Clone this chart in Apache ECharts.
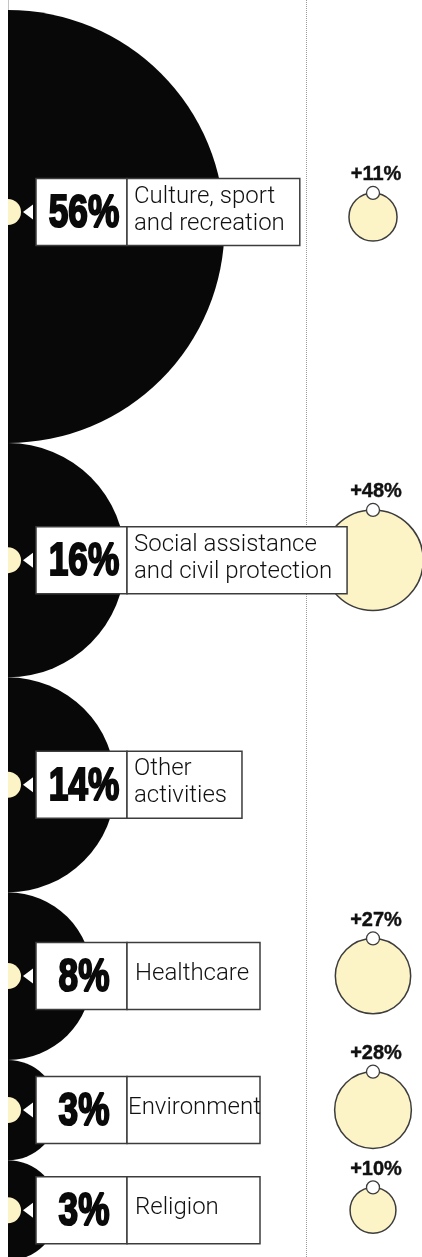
<!DOCTYPE html>
<html>
<head>
<meta charset="utf-8">
<script src="https://cdn.jsdelivr.net/npm/echarts@6/dist/echarts.min.js"></script>
<style>
  html, body { margin: 0; padding: 0; background: #fff; }
  #chart { width: 422px; height: 1257px; }
</style>
</head>
<body>
<div id="chart"></div>
<script>
// ---- data ----
const categories = [
  'Culture, sport\nand recreation',
  'Social assistance\nand civil protection',
  'Other\nactivities',
  'Healthcare',
  'Environment',
  'Religion'
];
const shares = [56, 16.4, 13.8, 8.4, 3.0, 3.0];      // share of total, %
const growth = [11, 48, null, 27, 28, 10];           // growth, %
const shareLabels = shares.map(v => Math.round(v) + '%');
const growthLabels = growth.map(g => g == null ? '' : '+' + g + '%');

// ---- layout ----
const TOP = 10;
const K = 216.5 / Math.sqrt(56);   // radius per sqrt(share)
const KG = 7.25;                   // radius per sqrt(growth)
const GROWTH_X = 365;
const DIVIDER_X = 298;
const FIRST_LABEL_SHIFT = -14.5;   // the first (largest) row's label sits higher
const FIRST_GROWTH_SHIFT = -9.5;
const radii = shares.map(v => K * Math.sqrt(v));
const centers = [];
(function () {
  let y = TOP;
  radii.forEach(r => { centers.push(y + r); y += 2 * r; });
})();
const labelY = centers.map((c, i) => i === 0 ? c + FIRST_LABEL_SHIFT : c);
const growthY = centers.map((c, i) => i === 0 ? c + FIRST_GROWTH_SHIFT : c);

const measureCtx = document.createElement('canvas').getContext('2d');
const LABEL_FONT = '300 24px Roboto';
measureCtx.font = LABEL_FONT;
function textWidth(s) {
  return Math.max.apply(null, s.split('\n').map(l => measureCtx.measureText(l).width));
}

const CREAM = '#fcf3c6';
const LINE = '#3c3c3c';

const chart = echarts.init(document.getElementById('chart'), null, { renderer: 'canvas' });

chart.setOption({
  animation: false,
  backgroundColor: '#fff',
  grid: { left: 8, right: 0, top: 0, bottom: 0 },
  xAxis: { type: 'value', min: 0, max: 414, show: false },
  yAxis: {
    type: 'value', min: 0, max: 1257, inverse: true,
    axisLine: { show: true, onZero: false, lineStyle: { color: '#c4c4c4', width: 1 } },
    axisTick: { show: false }, axisLabel: { show: false }, splitLine: { show: false }
  },
  series: [
    {
      name: 'share',
      type: 'custom',
      silent: true,
      z: 2,
      data: shares.map((v, i) => [0, centers[i], v]),
      renderItem: function (params, api) {
        const p = api.coord([api.value(0), api.value(1)]);
        const r = api.size([K * Math.sqrt(api.value(2)), 0])[0];
        return {
          type: 'sector',
          shape: { cx: p[0], cy: p[1], r0: 0, r: r, startAngle: -Math.PI / 2, endAngle: Math.PI / 2, clockwise: true },
          style: { fill: '#080808' }
        };
      },
      markLine: {
        silent: true,
        symbol: 'none',
        label: { show: false },
        lineStyle: { color: '#9a9a9a', type: [1, 1], width: 1 },
        data: [{ xAxis: DIVIDER_X }]
      }
    },
    {
      name: 'growth',
      type: 'custom',
      silent: true,
      z: 3,
      data: growth.map((g, i) => [GROWTH_X, growthY[i], g, i]).filter(d => d[2] != null),
      renderItem: function (params, api) {
        const p = api.coord([api.value(0), api.value(1)]);
        const r = api.size([KG * Math.sqrt(api.value(2)), 0])[0];
        const i = api.value(3);
        return {
          type: 'group',
          children: [
            { type: 'circle', shape: { cx: p[0], cy: p[1], r: r },
              style: { fill: CREAM, stroke: LINE, lineWidth: 1.5 } },
            { type: 'circle', shape: { cx: p[0], cy: p[1] - r, r: 6.5 },
              style: { fill: '#fff', stroke: LINE, lineWidth: 1.3 } },
            { type: 'text', x: p[0] + 3, y: p[1] - r - 18,
              style: { text: growthLabels[i], font: 'bold 20px "Liberation Sans", Arial, sans-serif',
                fill: '#111', stroke: '#111', lineWidth: 0.4, align: 'center', verticalAlign: 'middle' } }
          ]
        };
      }
    },
    {
      name: 'labels',
      type: 'custom',
      silent: true,
      z: 5,
      data: shares.map((v, i) => [0, labelY[i], v, i]),
      renderItem: function (params, api) {
        const p = api.coord([0, api.value(1)]);
        const i = api.value(3);
        const x0 = p[0], cy = p[1];
        const cat = categories[i];
        const tw = textWidth(cat);
        const multi = cat.indexOf('\n') >= 0;
        const w = multi ? tw + 22 : 133;
        const pad = multi ? 7 : Math.max(1, Math.min(8, (w - tw) / 2));
        return {
          type: 'group',
          children: [
            { type: 'sector', shape: { cx: x0, cy: cy, r0: 0, r: 13, startAngle: -Math.PI / 2, endAngle: Math.PI / 2, clockwise: true },
              style: { fill: CREAM } },
            { type: 'polygon', shape: { points: [[x0 + 15, cy], [x0 + 25, cy - 7.5], [x0 + 25, cy + 7.5]] },
              style: { fill: '#fff' } },
            { type: 'rect', shape: { x: x0 + 28, y: cy - 33.5, width: 91, height: 67 },
              style: { fill: '#fff', stroke: LINE, lineWidth: 1.5 } },
            { type: 'rect', shape: { x: x0 + 119, y: cy - 33.5, width: w, height: 67 },
              style: { fill: '#fff', stroke: LINE, lineWidth: 1.5 } },
            { type: 'text', x: x0 + 76, y: cy + 2, scaleX: 0.75,
              style: { text: shareLabels[i], font: 'bold 47px "Liberation Sans", Arial, sans-serif',
                fill: '#0a0a0a', stroke: '#0a0a0a', lineWidth: 2.2, align: 'center', verticalAlign: 'middle' } },
            { type: 'text', x: x0 + 119 + pad, y: cy - 2,
              style: { text: cat, font: LABEL_FONT, lineHeight: 27,
                fill: '#111', align: 'left', verticalAlign: 'middle' } }
          ]
        };
      }
    }
  ]
});
</script>
</body>
</html>
